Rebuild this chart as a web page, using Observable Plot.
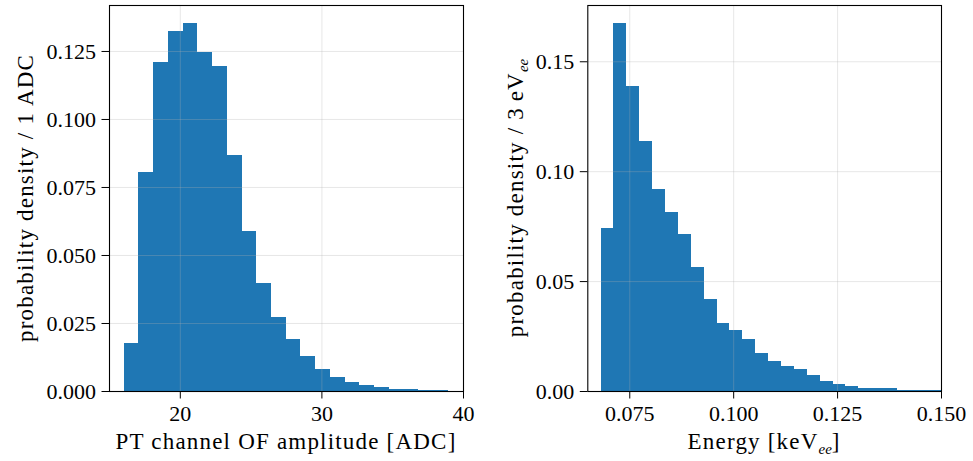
<!DOCTYPE html>
<html><head><meta charset="utf-8">
<script src="https://cdn.jsdelivr.net/npm/d3@7"></script>
<script src="https://cdn.jsdelivr.net/npm/@observablehq/plot@0.6"></script>
<style>
html,body{margin:0;padding:0;background:#fff;}
#wrap{display:flex;width:973px;height:461px;}
svg{display:block}
</style></head><body><div id="wrap"></div>
<script>
// Left histogram: PT channel OF amplitude [ADC]
const leftBinStart = 16.04;
const leftBinWidth = 1.04;
const leftDensity = [0.0178, 0.0805, 0.1210, 0.1324, 0.1353, 0.1246, 0.1195, 0.0868, 0.0589, 0.0397, 0.0272,
  0.0191, 0.0129, 0.0082, 0.0053, 0.0034, 0.0023, 0.0016, 0.0008, 0.0008, 0.0005, 0.0005];
const leftXTicks = [20, 30, 40];
const leftYTicks = [0, 0.025, 0.05, 0.075, 0.1, 0.125];

// Right histogram: Energy [keV_ee]
const rightBinStart = 0.0681;
const rightBinWidth = 0.0031;
const rightDensity = [0.0742, 0.1674, 0.1388, 0.1137, 0.0919, 0.0814, 0.0714, 0.0564, 0.0419, 0.0309, 0.0278,
  0.0238, 0.0174, 0.0138, 0.0115, 0.0101, 0.0074, 0.0047, 0.0033, 0.0024, 0.0015, 0.0015, 0.0015,
  0.0006, 0.0006, 0.0006, 0.0006];
const rightXTicks = [0.075, 0.1, 0.125, 0.15];
const rightYTicks = [0, 0.05, 0.1, 0.15];

const FONT = "'Liberation Serif', 'DejaVu Serif', serif";
const BLUE = "#1f77b4";

function panel(o) {
  const bins = o.density.map((d, i) => ({x1: o.start + i * o.w, x2: o.start + (i + 1) * o.w, y: d}));
  const grid = {stroke: "#b0b0b0", strokeOpacity: 0.3, strokeWidth: 1};
  const svg = Plot.plot({
    width: o.width, height: 461,
    marginLeft: o.marginLeft, marginRight: o.marginRight, marginTop: 5, marginBottom: 70,
    style: {fontFamily: FONT, fontSize: "22px", color: "#000", background: "#fff"},
    x: {domain: o.xDomain},
    y: {domain: o.yDomain},
    marks: [
      Plot.rectY(bins, {x1: "x1", x2: "x2", y: "y", fill: BLUE, inset: 0, clip: true, shapeRendering: "crispEdges"}),
      Plot.gridX(o.xTicks, grid),
      Plot.gridY(o.yTicks, grid),
      Plot.frame({stroke: "#000", strokeWidth: 1.1}),
      Plot.axisX(o.xTicks, {tickSize: 7.5, tickPadding: 6, tickFormat: o.xFmt, label: null, fontSize: 22}),
      Plot.axisY(o.yTicks, {tickSize: 7.5, tickPadding: 6, tickFormat: o.yFmt, label: null, fontSize: 22})
    ]
  });
  const s = d3.select(svg);
  const cx = o.marginLeft + (o.width - o.marginLeft - o.marginRight) / 2;
  const xl = s.append("text").attr("x", cx).attr("y", 449).attr("text-anchor", "middle")
    .attr("font-family", FONT).attr("font-size", 23).attr("letter-spacing", "1.2px").attr("fill", "#000");
  o.xLabel(xl);
  const yl = s.append("text").attr("transform", `translate(${o.yLabelX},198) rotate(-90)`)
    .attr("text-anchor", "middle").attr("font-family", FONT).attr("font-size", 23)
    .attr("letter-spacing", "1.2px").attr("fill", "#000");
  o.yLabel(yl);
  return svg;
}

const wrap = document.getElementById("wrap");
wrap.appendChild(panel({
  width: 486, marginLeft: 109, marginRight: 23,
  start: leftBinStart, w: leftBinWidth, density: leftDensity,
  xDomain: [15, 40], yDomain: [0, 0.1419],
  xTicks: leftXTicks, yTicks: leftYTicks,
  xFmt: d3.format("d"), yFmt: d3.format(".3f"),
  yLabelX: 33,
  xLabel: t => t.text("PT channel OF amplitude [ADC]"),
  yLabel: t => t.text("probability density / 1\u2009ADC")
}));
wrap.appendChild(panel({
  width: 487, marginLeft: 101.3, marginRight: 32,
  start: rightBinStart, w: rightBinWidth, density: rightDensity,
  xDomain: [0.0649, 0.150], yDomain: [0, 0.1756],
  xTicks: rightXTicks, yTicks: rightYTicks,
  xFmt: d3.format(".3f"), yFmt: d3.format(".2f"),
  yLabelX: 37,
  xLabel: t => {
    t.append("tspan").text("Energy [keV");
    t.append("tspan").attr("font-size", 15).attr("font-style", "italic").attr("letter-spacing", "0px").attr("dy", 5).text("ee");
    t.append("tspan").attr("dy", -5).text("]");
  },
  yLabel: t => {
    t.append("tspan").text("probability density / 3\u2009eV");
    t.append("tspan").attr("font-size", 15).attr("font-style", "italic").attr("letter-spacing", "0px").attr("dy", 5).text("ee");
  }
}));
</script></body></html>
